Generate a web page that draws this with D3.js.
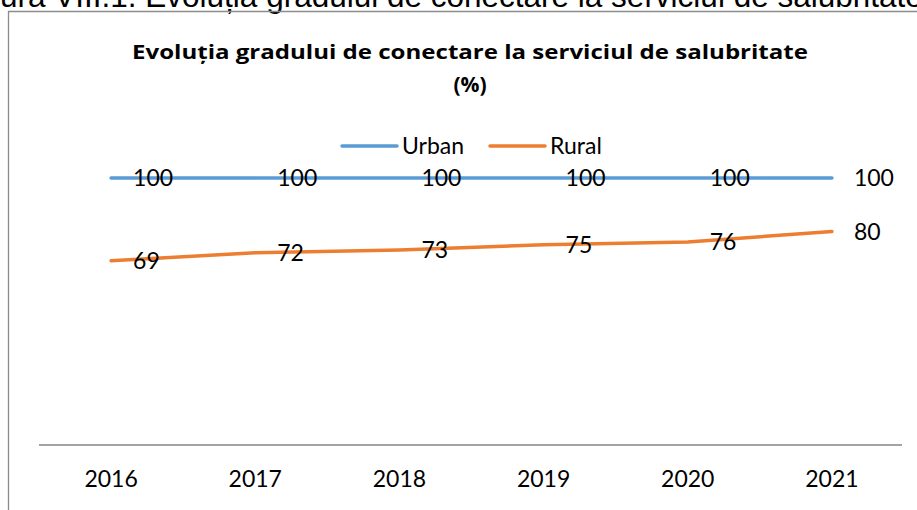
<!DOCTYPE html>
<html>
<head>
<meta charset="utf-8">
<script src="https://cdn.jsdelivr.net/npm/d3@7"></script>
<style>
  body { margin: 0; background: #fff; overflow: hidden; }
  svg { display: block; }
  text { fill: #000; }
</style>
</head>
<body>
<svg width="917" height="510"></svg>
<script>
"use strict";

// data
var years = ["2016", "2017", "2018", "2019", "2020", "2021"];
var urban = [100, 100, 100, 100, 100, 100];
var rural = [69, 72, 73, 75, 76, 80];
var seriesNames = ["Urban", "Rural"];
var seriesColors = ["#5B9BD5", "#ED7D31"];

var W = 917, H = 510;
var svg = d3.select("svg");

// caption of the page above the chart (clipped by the crop, as in the source)
svg.append("text")
  .attr("x", 0).attr("y", 7)
  .style("font-family", "'Liberation Sans', Arial, sans-serif")
  .style("font-size", "31.5px")
  .text("ura VIII.1. Evoluția gradului de conectare la serviciul de salubritate");

// chart frame (only left and top are inside the crop)
svg.append("path")
  .attr("d", "M8.5," + H + "V11.5H" + W)
  .attr("fill", "none")
  .attr("stroke", "#8c8c8c")
  .attr("stroke-width", 1.3);

var font = "Lato, 'Open Sans', sans-serif";
var titleFont = "'Open Sans', Lato, sans-serif";

// title
svg.append("text")
  .attr("x", 470).attr("y", 59)
  .attr("text-anchor", "middle")
  .attr("textLength", 676)
  .attr("lengthAdjust", "spacingAndGlyphs")
  .style("font-family", titleFont)
  .style("font-weight", "bold")
  .style("font-size", "20px")
  .text("Evoluția gradului de conectare la serviciul de salubritate");
svg.append("text")
  .attr("x", 470).attr("y", 92)
  .attr("text-anchor", "middle")
  .style("font-family", titleFont)
  .style("font-weight", "bold")
  .style("font-size", "21px")
  .text("(%)");

var margin = { left: 39, right: 902, top: 178, bottom: 445 };

var x = d3.scaleBand().domain(years).range([margin.left, margin.right + 2]);
var y = d3.scaleLinear().domain([0, 100]).range([margin.bottom, margin.top]);
var cx = function (d) { return x(d) + x.bandwidth() / 2; };

// x axis
var xAxis = svg.append("g")
  .attr("transform", "translate(0," + margin.bottom + ")")
  .call(d3.axisBottom(x).tickSize(0).tickPadding(26));
xAxis.select(".domain").attr("stroke", "#868686").attr("stroke-width", 1.5)
  .attr("d", "M" + margin.left + ",0H" + margin.right);
xAxis.selectAll("text")
  .style("font-family", font)
  .style("font-size", "23px")
  .attr("fill", "#000");

var line = d3.line()
  .x(function (d, i) { return cx(years[i]); })
  .y(function (d) { return y(d); });

[urban, rural].forEach(function (vals, k) {
  svg.append("path")
    .datum(vals)
    .attr("d", line)
    .attr("fill", "none")
    .attr("stroke", seriesColors[k])
    .attr("stroke-width", 3.5)
    .attr("stroke-linecap", "round")
    .attr("stroke-linejoin", "round");

  svg.selectAll(".lbl" + k)
    .data(vals)
    .enter().append("text")
    .attr("class", "lbl" + k)
    .attr("x", function (d, i) { return cx(years[i]) + 22; })
    .attr("y", function (d) { return y(d); })
    .attr("dy", "0.36em")
    .style("font-family", font)
    .style("font-size", "23px")
    .text(function (d) { return d; });
});

// legend
var legend = svg.append("g").attr("transform", "translate(0,146)");
var legX = [342, 490];
seriesNames.forEach(function (name, k) {
  legend.append("line")
    .attr("x1", legX[k]).attr("x2", legX[k] + 55)
    .attr("y1", 0).attr("y2", 0)
    .attr("stroke", seriesColors[k])
    .attr("stroke-width", 3.5)
    .attr("stroke-linecap", "round");
  legend.append("text")
    .attr("x", legX[k] + 60).attr("y", 0)
    .attr("dy", "0.36em")
    .style("font-family", font)
    .style("font-size", "23px")
    .text(name);
});
</script>
</body>
</html>
